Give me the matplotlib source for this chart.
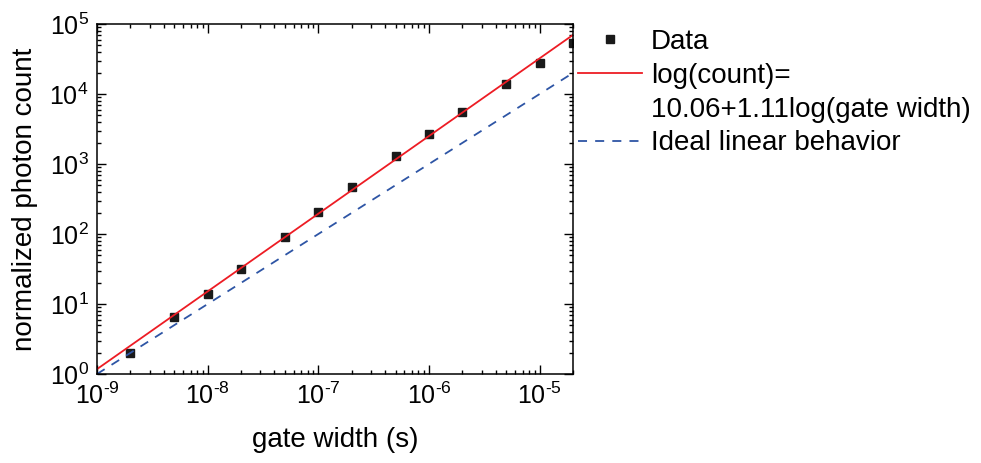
import numpy as np
import matplotlib
matplotlib.use("Agg")
import matplotlib.pyplot as plt
from matplotlib.lines import Line2D
from matplotlib.ticker import FuncFormatter

plt.rcParams['font.family'] = ['Liberation Sans', 'DejaVu Sans']
plt.rcParams['mathtext.fontset'] = 'custom'
plt.rcParams['mathtext.rm'] = 'Liberation Sans'
plt.rcParams['mathtext.it'] = 'Liberation Sans:italic'

# data
gate_width = [2e-9, 5e-9, 1e-8, 2e-8, 5e-8, 1e-7, 2e-7, 5e-7, 1e-6, 2e-6, 5e-6, 1e-5, 2e-5]
photon_count = [2.0, 6.45, 13.8, 31.3, 91.5, 204, 465, 1300, 2690, 5530, 13900, 27500, 53000]

# fit: log(count) = 10.06 + 1.11 log(gate width)
fit_intercept = 10.06
fit_slope = 1.11
# ideal linear behaviour (slope 1)
ideal_intercept = 9.0

x_range = [1e-9, 2e-5]
y_range = [1, 1e5]

fig = plt.figure(figsize=(9.81, 4.63), dpi=100)
ax = fig.add_axes([0.0989, 0.1922, 0.4852, 0.756])

xx = np.array(x_range)
fit_line = 10 ** (fit_intercept + fit_slope * np.log10(xx))
ideal_line = 10 ** (ideal_intercept + np.log10(xx))

h_data, = ax.plot(gate_width, photon_count, 's', color='#1a1a1a', ms=6.3, ls='none')
h_fit, = ax.plot(xx, fit_line, color='#ED1C24', lw=1.3)
h_ideal, = ax.plot(xx, ideal_line, color='#2E55A5', lw=1.3, ls=(0, (5, 4.5)))

ax.set_xscale('log')
ax.set_yscale('log')
ax.set_xlim(x_range)
ax.set_ylim(y_range)


def pow_label(v, pos):
    e = int(round(np.log10(v)))
    return '$10^{%s}$' % str(e).replace('-', '\u2010')


ax.xaxis.set_major_formatter(FuncFormatter(pow_label))
ax.yaxis.set_major_formatter(FuncFormatter(pow_label))

ax.tick_params(which='both', direction='in', top=True, right=True, width=1.0)
ax.tick_params(which='major', length=6.5, labelsize=18, pad=6)
ax.tick_params(which='minor', length=3)
for s in ax.spines.values():
    s.set_linewidth(1.1)

ax.set_xlabel('gate width (s)', fontsize=20, labelpad=13.5)
ax.set_ylabel('normalized photon count', fontsize=20, labelpad=8.5)

blank = Line2D([], [], ls='none')
ax.legend([h_data, h_fit, blank, h_ideal],
          ['Data', 'log(count)=', '10.06+1.11log(gate width)', 'Ideal linear behavior'],
          loc='upper left', bbox_to_anchor=(578 / 981, 1 - 29 / 463),
          bbox_transform=fig.transFigure, frameon=False, fontsize=20,
          handlelength=2.3, handletextpad=0.32, labelspacing=0.28,
          borderpad=0, borderaxespad=0, numpoints=1)

fig.savefig('out.png', dpi=100)
